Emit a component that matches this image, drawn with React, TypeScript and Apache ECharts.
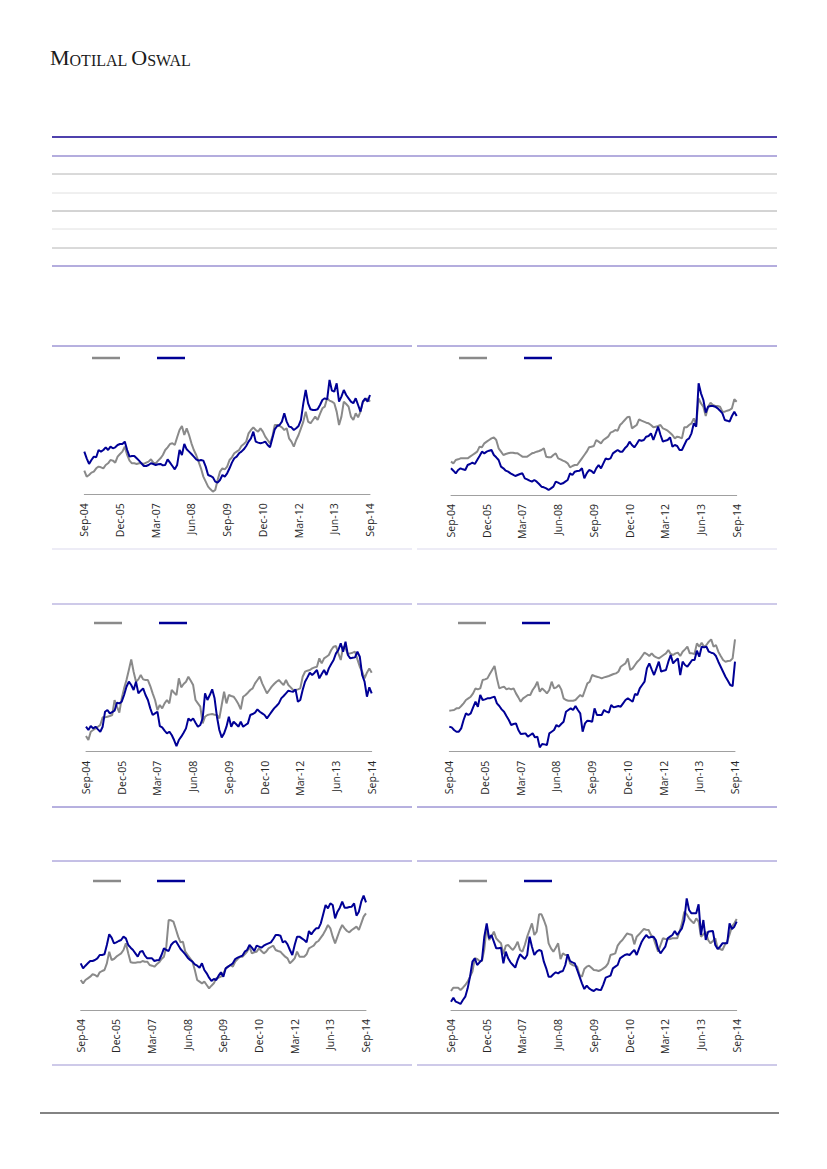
import React, { useEffect, useRef } from "react";
import * as echarts from "echarts";

const MONTH_NAMES = ["Jan", "Feb", "Mar", "Apr", "May", "Jun", "Jul", "Aug", "Sep", "Oct", "Nov", "Dec"];
const CATEGORIES: string[] = [];
for (let i = 0; i < 121; i++) {
  const k = 8 + i;
  CATEGORIES.push(MONTH_NAMES[k % 12] + "-" + String(4 + Math.floor(k / 12)).padStart(2, "0"));
}

const C1_GRAY = [71,53,58,65,68,78,83,81,78,88,93,103,101,95,113,121,128,143,118,101,93,93,91,93,93,91,95,98,105,95,93,101,108,118,133,141,151,153,148,171,193,205,178,198,178,153,133,118,98,78,53,38,23,15,8,13,43,68,78,75,83,103,111,123,128,133,145,151,158,183,193,201,193,188,198,188,173,163,153,173,208,208,205,201,193,198,168,158,143,163,178,198,218,248,218,213,223,233,223,241,258,263,288,281,278,273,248,208,233,278,271,263,233,223,243,231,248,278,283,288,278];
const C1_NAVY = [128,108,91,103,113,111,133,128,133,141,133,143,138,141,148,151,151,158,133,113,115,115,108,101,93,85,85,88,93,91,88,90,91,87,88,105,95,85,75,88,133,118,151,135,128,121,113,105,101,103,101,83,58,55,51,38,35,43,58,53,63,78,95,108,113,123,128,135,145,158,168,188,158,155,153,155,158,148,141,168,195,205,208,218,243,218,203,201,193,198,205,223,273,313,273,255,253,253,255,268,283,288,285,343,311,308,333,278,293,313,298,288,278,273,288,268,248,278,288,278,298];
const C2_GRAY = [100,95,105,107,110,110,110,110,115,120,125,130,145,143,155,160,165,170,173,165,140,130,120,123,125,127,127,125,125,120,115,115,115,120,125,127,130,132,135,140,115,113,113,120,125,110,107,103,100,95,83,87,90,90,100,110,120,130,143,145,147,165,160,155,165,170,175,187,190,195,193,210,217,225,233,235,200,205,210,227,223,220,217,215,210,203,205,207,210,200,197,193,187,180,170,175,173,170,203,203,210,215,230,210,290,275,265,237,265,277,270,267,267,265,250,250,253,255,260,287,280];
const C2_NAVY = [80,73,65,75,80,77,75,90,93,97,93,105,117,130,125,130,133,135,120,113,105,85,80,73,70,65,61,57,60,63,65,50,47,43,40,45,40,33,25,23,20,15,20,25,40,37,33,35,40,45,65,60,70,72,73,80,50,65,75,72,65,80,90,80,95,110,107,110,125,130,135,130,130,140,147,160,150,143,153,165,163,165,175,177,185,165,185,205,180,160,163,165,173,145,150,147,135,135,150,165,170,185,215,205,335,305,285,247,265,267,267,265,260,253,245,225,223,220,237,250,237];
const C3_GRAY = [47,35,60,65,70,75,80,103,103,105,107,110,155,135,117,160,190,215,245,277,240,210,217,230,217,215,215,197,175,155,125,140,130,145,155,145,185,177,170,220,193,203,210,225,213,200,155,145,135,85,105,110,112,113,111,110,100,140,180,145,170,167,165,155,143,127,165,170,177,185,190,205,215,225,205,190,175,185,195,203,210,215,207,200,215,200,193,185,185,187,190,225,240,243,245,250,253,255,280,265,280,285,290,305,315,317,295,275,315,310,293,295,297,300,277,255,240,220,237,250,237];
const C3_NAVY = [75,65,77,70,75,67,60,75,120,125,115,119,123,147,145,150,170,195,210,200,185,210,175,183,190,170,155,130,110,115,120,77,73,63,55,60,50,35,17,35,45,57,70,100,93,100,87,75,80,100,175,155,170,187,160,105,65,43,55,75,105,75,90,83,75,90,75,80,85,110,113,117,127,120,115,110,100,110,120,130,137,145,160,167,175,183,181,180,187,150,155,185,210,223,237,230,237,245,220,233,245,230,250,263,275,295,305,325,300,330,290,280,282,283,300,285,230,210,165,193,175];
const C4_GRAY = [123,124,125,130,130,137,145,155,160,165,175,190,187,190,215,217,220,233,245,257,220,190,193,195,187,190,187,190,175,163,150,160,165,170,170,185,195,210,180,190,183,175,185,210,190,193,200,187,160,155,153,153,153,155,163,170,165,185,205,210,230,227,225,223,220,223,225,227,230,233,235,240,255,260,265,280,245,250,260,270,277,287,297,293,287,295,287,283,280,285,290,295,305,293,290,295,297,287,300,307,315,295,295,293,325,315,327,315,320,330,337,315,320,300,287,275,270,272,273,280,337];
const C4_NAVY = [75,73,65,60,60,70,95,115,110,115,133,150,135,170,155,157,160,160,163,165,145,137,127,120,107,95,80,83,85,65,53,54,55,45,50,55,43,45,13,23,22,20,55,60,65,80,75,83,90,120,125,130,125,137,125,115,60,85,93,92,90,130,110,110,110,125,120,117,140,133,135,137,135,145,155,160,155,150,173,170,190,200,210,250,265,247,230,250,270,240,243,245,270,290,265,273,280,230,270,260,255,265,275,275,303,285,315,313,315,300,297,295,287,270,255,240,225,213,200,197,270];
const C5_GRAY = [90,80,90,95,100,107,105,100,113,117,120,140,175,150,153,160,165,170,180,200,170,143,142,142,143,143,147,145,145,135,133,130,137,143,153,160,190,270,269,265,243,220,203,205,175,165,155,145,120,90,85,80,85,75,65,73,80,95,97,100,110,125,130,135,130,145,153,160,160,167,175,190,170,173,175,185,177,170,175,185,189,193,180,177,175,167,160,155,140,147,155,175,160,160,160,167,185,189,193,203,207,217,227,240,255,245,220,200,220,240,255,245,237,233,240,245,250,240,260,280,290];
const C5_NAVY = [140,125,133,140,147,147,150,155,165,165,167,195,227,217,200,203,207,210,220,215,195,187,180,170,160,175,177,163,155,155,155,147,149,150,165,185,180,177,195,203,207,195,183,175,167,157,150,145,137,133,127,140,120,110,97,87,93,90,103,113,100,125,130,135,140,153,157,160,163,175,180,195,187,177,193,190,187,193,197,200,203,213,225,225,223,203,207,197,180,165,195,220,220,215,210,203,237,227,237,245,245,260,287,315,305,320,315,275,295,307,325,307,307,309,310,320,283,295,325,343,323];
const C6_GRAY = [57,67,67,67,60,67,75,85,100,115,155,153,147,147,183,250,210,220,235,215,207,200,167,193,195,187,180,190,205,180,175,195,220,240,260,225,235,287,287,270,250,200,185,175,187,200,153,170,165,165,140,135,133,130,105,100,123,130,133,127,120,119,117,120,125,130,140,165,167,170,193,203,210,220,230,227,225,197,220,227,235,243,241,240,225,217,195,175,195,215,213,212,213,215,215,215,235,260,295,287,275,267,260,275,265,220,227,235,210,200,207,215,185,183,180,195,205,227,250,260,273];
const C6_NAVY = [25,37,25,22,18,30,40,65,100,145,155,135,143,150,220,260,215,225,205,185,185,187,140,175,155,143,135,127,150,167,160,153,165,220,190,165,175,180,177,145,125,100,100,107,113,110,115,117,135,167,147,143,140,120,100,80,63,73,65,60,57,63,61,60,77,97,100,103,125,130,135,155,160,165,167,165,173,180,165,185,203,215,225,217,219,220,210,183,170,180,190,215,220,225,237,225,235,245,270,335,300,290,290,290,317,225,270,210,235,236,237,195,183,190,200,200,200,260,243,250,265];

const SERIES_DATA = [
  [C1_GRAY, C1_NAVY],
  [C2_GRAY, C2_NAVY],
  [C3_GRAY, C3_NAVY],
  [C4_GRAY, C4_NAVY],
  [C5_GRAY, C5_NAVY],
  [C6_GRAY, C6_NAVY],
];

const Y_MAX = 400;
const GRID_H = 133.33;
const GRAY = "#8a8a8a";
const NAVY = "#000096";
const PURPLE = "#4f41ad";

// layout of each panel
const PANELS = [
  { left: 84.3, right: 370, base: 494.3, legX: [92, 157], legY: 358 },
  { left: 451, right: 736.7, base: 495, legX: [459, 524], legY: 358 },
  { left: 86, right: 371.7, base: 751.7, legX: [94, 159], legY: 623 },
  { left: 449.3, right: 735, base: 751.7, legX: [458, 522], legY: 623 },
  { left: 80.7, right: 366, base: 1010, legX: [93, 157], legY: 881 },
  { left: 451, right: 736.7, base: 1010, legX: [459, 524], legY: 881 },
];

const RULES = [
  { y: 137, x1: 52, x2: 777, c: PURPLE, w: 2 },
  { y: 156, x1: 52, x2: 777, c: "#6a5dbd", w: 1.2 },
  { y: 174, x1: 52, x2: 777, c: "#b4b4b4", w: 1 },
  { y: 193, x1: 52, x2: 777, c: "#e0e0e0", w: 1 },
  { y: 211, x1: 52, x2: 777, c: "#a8a8a8", w: 1 },
  { y: 229, x1: 52, x2: 777, c: "#e0e0e0", w: 1 },
  { y: 248, x1: 52, x2: 777, c: "#b4b4b4", w: 1 },
  { y: 266, x1: 52, x2: 777, c: "#6a5dbd", w: 1.2 },
  { y: 346, x1: 52, x2: 412, c: "#6f63c0", w: 1 },
  { y: 346, x1: 417, x2: 777, c: "#6f63c0", w: 1 },
  { y: 549, x1: 52, x2: 412, c: "#dcd9ee", w: 1.2 },
  { y: 549, x1: 417, x2: 777, c: "#dcd9ee", w: 1.2 },
  { y: 604, x1: 52, x2: 412, c: "#9d95d3", w: 1 },
  { y: 604, x1: 417, x2: 777, c: "#9d95d3", w: 1 },
  { y: 807, x1: 52, x2: 412, c: "#6f63c0", w: 1 },
  { y: 807, x1: 417, x2: 777, c: "#6f63c0", w: 1 },
  { y: 861, x1: 52, x2: 412, c: "#8a80cc", w: 1 },
  { y: 861, x1: 417, x2: 777, c: "#8a80cc", w: 1 },
  { y: 1065, x1: 52, x2: 412, c: "#9d95d3", w: 1 },
  { y: 1065, x1: 417, x2: 777, c: "#9d95d3", w: 1 },
  { y: 1113, x1: 40, x2: 779, c: "#5a5a5a", w: 1.5 },
];

export default function App() {
  const ref = useRef<HTMLDivElement>(null);
  useEffect(() => {
    if (!ref.current) return;
    const chart = echarts.init(ref.current, undefined, { renderer: "svg" });
    const grid: any[] = [];
    const xAxis: any[] = [];
    const yAxis: any[] = [];
    const series: any[] = [];
    const graphic: any[] = [];
    PANELS.forEach((p, i) => {
      grid.push({ left: p.left, top: p.base - GRID_H, width: p.right - p.left, height: GRID_H });
      xAxis.push({
        type: "category",
        gridIndex: i,
        data: CATEGORIES,
        boundaryGap: false,
        axisLine: { lineStyle: { color: "#a0a0a0", width: 1 } },
        axisTick: { show: false },
        splitLine: { show: false },
        axisLabel: {
          interval: 14,
          rotate: 90,
          margin: 9,
          fontSize: 10.5,
          fontFamily: "Open Sans",
          color: "#262626",
        },
      });
      yAxis.push({ type: "value", gridIndex: i, min: 0, max: Y_MAX, show: false });
      const [g, n] = SERIES_DATA[i];
      series.push({
        type: "line",
        name: "gray" + (i + 1),
        xAxisIndex: i,
        yAxisIndex: i,
        data: g,
        showSymbol: false,
        lineStyle: { color: GRAY, width: 2 },
        itemStyle: { color: GRAY },
      });
      series.push({
        type: "line",
        name: "navy" + (i + 1),
        xAxisIndex: i,
        yAxisIndex: i,
        data: n,
        showSymbol: false,
        lineStyle: { color: NAVY, width: 2 },
        itemStyle: { color: NAVY },
      });
      graphic.push({
        type: "line",
        shape: { x1: p.legX[0], y1: p.legY, x2: p.legX[0] + 28, y2: p.legY },
        style: { stroke: GRAY, lineWidth: 2.5 },
      });
      graphic.push({
        type: "line",
        shape: { x1: p.legX[1], y1: p.legY, x2: p.legX[1] + 28, y2: p.legY },
        style: { stroke: NAVY, lineWidth: 2.5 },
      });
    });
    RULES.forEach((r) => {
      graphic.push({
        type: "line",
        shape: { x1: r.x1, y1: r.y, x2: r.x2, y2: r.y },
        style: { stroke: r.c, lineWidth: r.w },
      });
    });
    graphic.push({
      type: "text",
      x: 50,
      y: 44,
      style: {
        text: "{a|M}{b|OTILAL} {a|O}{b|SWAL}",
        fontFamily: "Liberation Serif",
        fontSize: 16,
        fill: "#1a1a1a",
        rich: {
          a: { fontSize: 22, fontFamily: "Liberation Serif", fill: "#1a1a1a", verticalAlign: "bottom", lineHeight: 24 },
          b: { fontSize: 16, fontFamily: "Liberation Serif", fill: "#1a1a1a", verticalAlign: "bottom", lineHeight: 24 },
        },
      },
    });
    chart.setOption({ animation: false, grid, xAxis, yAxis, series, graphic });
    return () => chart.dispose();
  }, []);
  return (
    <div
      ref={ref}
      style={{ position: "absolute", left: 0, top: 0, width: 827, height: 1169, background: "#ffffff" }}
    />
  );
}
